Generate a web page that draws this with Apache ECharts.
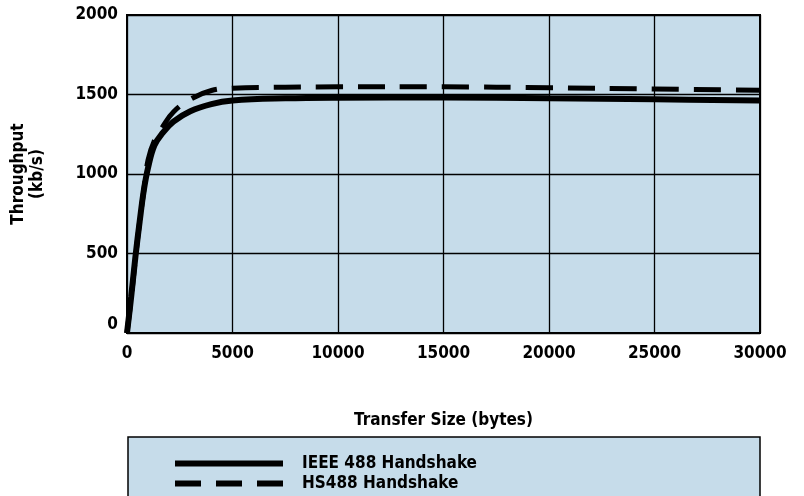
<!DOCTYPE html>
<html>
<head>
<meta charset="utf-8">
<script src="https://cdn.jsdelivr.net/npm/echarts@6/dist/echarts.min.js"></script>
<style>html,body{margin:0;padding:0;background:#fff;}#c{width:804px;height:496px;}</style>
</head>
<body>
<div id="c"></div>
<script>
// Transfer size (bytes)
const sizes = [0, 200, 400, 600, 800, 1000, 1300, 1700, 2200, 3000, 4000, 5000, 7500, 10000, 15000, 20000, 25000, 30000];
// Throughput (kb/s)
const ieee488 = [0, 230, 480, 700, 900, 1040, 1180, 1260, 1330, 1395, 1440, 1462, 1476, 1480, 1481, 1476, 1470, 1462];
const hs488 = [0, 220, 470, 700, 900, 1090, 1210, 1300, 1390, 1470, 1525, 1540, 1546, 1548, 1548, 1542, 1535, 1527];
const seriesNames = ['IEEE 488 Handshake', 'HS488 Handshake'];
const xTicks = [0, 5000, 10000, 15000, 20000, 25000, 30000];
const yTicks = [0, 500, 1000, 1500, 2000];

const FONT = "'Liberation Sans Narrow', 'DejaVu Sans Condensed', 'Liberation Sans', sans-serif";
const pairs = arr => sizes.map((s, i) => [s, arr[i]]);
const legendText = { fontFamily: FONT, fontWeight: 'bold', fontSize: 17, color: '#000', padding: [0, 0, 0, 14] };

const chart = echarts.init(document.getElementById('c'));
chart.setOption({
  animation: false,
  backgroundColor: '#fff',
  grid: {
    left: 127, right: 44, top: 15, bottom: 163,
    show: true, backgroundColor: '#c6dcea', borderColor: '#000', borderWidth: 2
  },
  graphic: [{
    type: 'rect', z: 0,
    shape: { x: 128, y: 437, width: 632, height: 80 },
    style: { fill: '#c6dcea', stroke: '#000', lineWidth: 1.5 }
  }],
  legend: [
    {
      data: [{ name: seriesNames[0], itemStyle: { opacity: 0 }, lineStyle: { width: 6, color: '#000', type: 'solid' } }],
      left: 172, top: 455, padding: 0, itemWidth: 108, itemHeight: 16, z: 5,
      textStyle: legendText
    },
    {
      data: [{ name: seriesNames[1], itemStyle: { opacity: 0 }, lineStyle: { width: 6, color: '#000', type: [26, 15] } }],
      left: 172, top: 475, padding: 0, itemWidth: 108, itemHeight: 16, z: 5,
      textStyle: legendText
    }
  ],
  xAxis: {
    type: 'value',
    min: 0, max: 30000, interval: 5000,
    name: 'Transfer Size (bytes)',
    nameLocation: 'middle', nameGap: 79,
    nameTextStyle: { fontFamily: FONT, fontWeight: 'bold', fontSize: 17, color: '#000' },
    axisLine: { show: true, lineStyle: { color: '#000', width: 2 } },
    axisTick: { show: false },
    axisLabel: { margin: 12, fontFamily: FONT, fontWeight: 'bold', fontSize: 17, color: '#000',
      formatter: v => xTicks.includes(v) ? String(v) : '' },
    splitLine: { show: true, lineStyle: { color: '#000', width: 1.3 } }
  },
  yAxis: {
    type: 'value',
    min: 0, max: 2000, interval: 500,
    name: 'Throughput\n(kb/s)',
    nameLocation: 'middle', nameGap: 80, nameRotate: 90,
    nameTextStyle: { fontFamily: FONT, fontWeight: 'bold', fontSize: 17, color: '#000', lineHeight: 19 },
    axisLine: { show: true, lineStyle: { color: '#000', width: 2 } },
    axisTick: { show: false },
    axisLabel: { margin: 9, fontFamily: FONT, fontWeight: 'bold', fontSize: 17, color: '#000',
      formatter: v => v === 0 ? '{z|0}' : (yTicks.includes(v) ? String(v) : ''),
      rich: { z: { fontFamily: FONT, fontWeight: 'bold', fontSize: 17, color: '#000', padding: [0, 0, 16, 0] } } },
    splitLine: { show: true, lineStyle: { color: '#000', width: 1.3 } }
  },
  series: [
    {
      name: seriesNames[0], type: 'line', data: pairs(ieee488),
      smooth: 0.4, symbol: 'none', z: 3,
      lineStyle: { color: '#000', width: 6 },
      itemStyle: { color: '#000' }
    },
    {
      name: seriesNames[1], type: 'line', data: pairs(hs488),
      smooth: 0.4, symbol: 'none', z: 4,
      lineStyle: { color: '#000', width: 5, type: [27, 15] },
      itemStyle: { color: '#000' }
    }
  ]
});
</script>
</body>
</html>
